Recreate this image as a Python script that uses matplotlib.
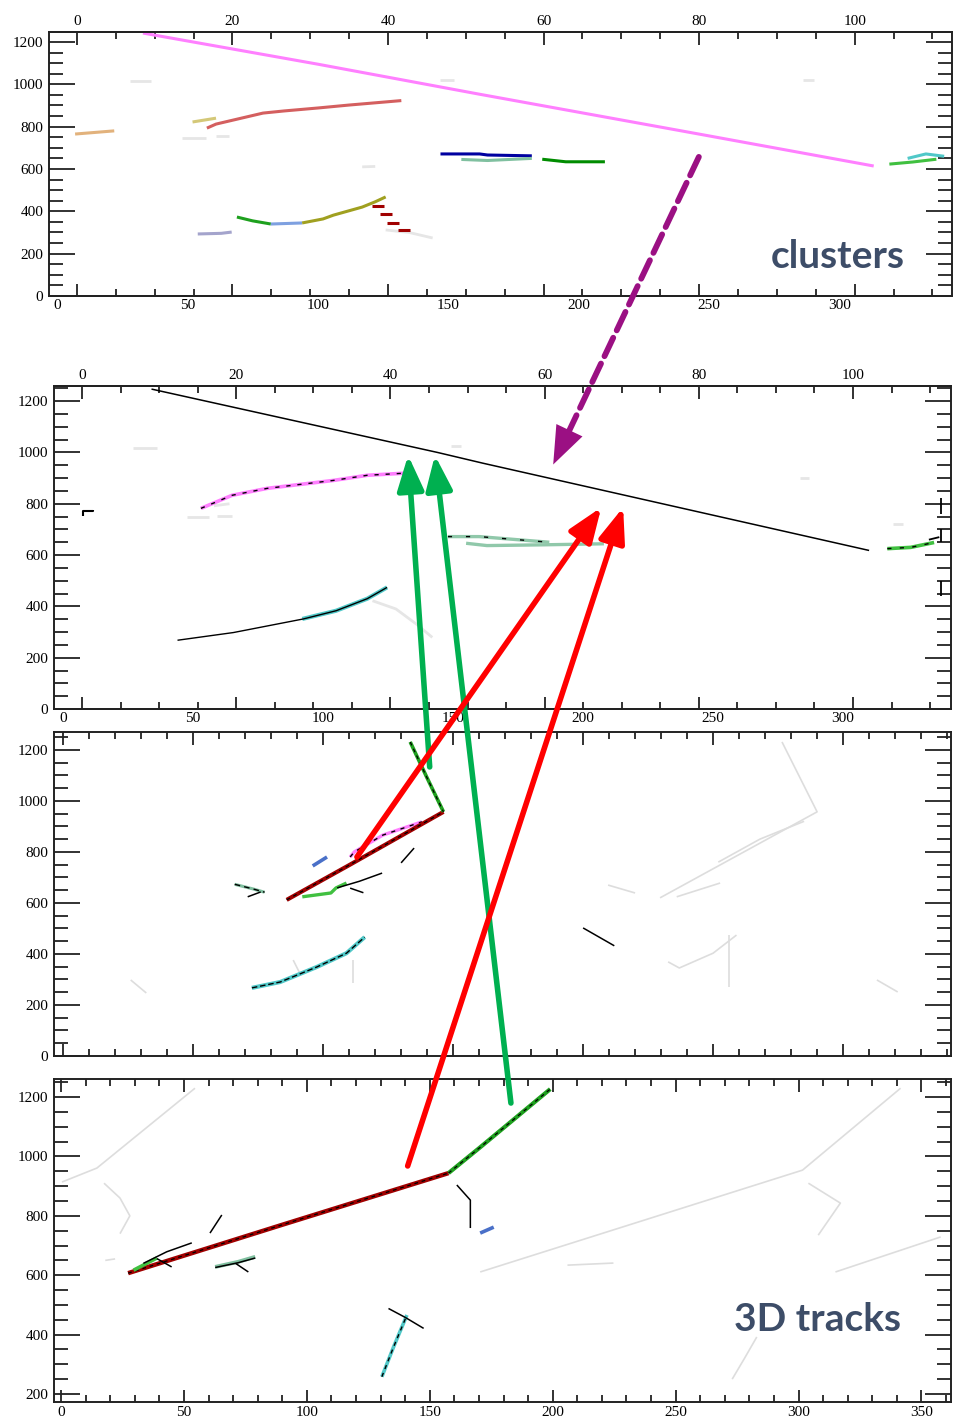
import matplotlib.pyplot as plt
from matplotlib.patches import ConnectionPatch, ArrowStyle
from matplotlib.ticker import MultipleLocator

plt.rcParams['font.family'] = ['Liberation Serif', 'DejaVu Serif']

# ---- top view: 2D clusters (wire number vs drift time) ----
cl_pink = [(33, 1242), (100, 1095), (162, 953), (246, 765), (313, 614)]
cl_peach = [(7, 765), (14, 772), (22, 780)]
cl_khaki = [(52, 822), (61, 840)]
cl_red = [(57.5, 793), (61, 812), (79, 864), (87, 874), (100, 888), (112, 902), (132, 923)]
cl_lavender = [(54, 293), (63, 296), (67, 302)]
cl_green = [(69, 373), (75, 355), (82, 340)]
cl_ltblue = [(82, 340), (94, 345)]
cl_olive = [(94, 345), (102, 364), (106, 382), (117, 420), (122, 445), (126, 468)]
cl_darkred = [(123, 426), (126, 386), (129, 346), (133, 312)]
cl_navy = [(147, 671), (162, 671), (165, 666), (182, 662)]
cl_sea = [(155, 645), (165, 640), (182, 650)]
cl_green2 = [(186, 646), (195, 634), (210, 634)]
cl_lime = [(319, 623), (328, 633), (337, 646)]
cl_cyan = [(326, 650), (333, 671), (340, 660)]
cl_faint = [
    [(28, 1016), (36, 1016)], [(48, 746), (57, 746)], [(61, 755), (66, 755)],
    [(147, 1020), (152, 1020)], [(126, 312), (135, 300), (144, 274)],
    [(117, 610), (122, 612)], [(286, 1020), (290, 1020)],
]

# ---- second view: matched clusters ----
v2_black = [(34, 1247), (144, 1000), (161.5, 958), (310, 618)]
v2_step = [(7.7, 754), (7.7, 770), (11.5, 770), (11.5, 776)]
v2_pink = [(53, 782), (65, 833), (78.5, 860), (104, 891), (117, 911), (131, 919)]
v2_cyan = [(92, 351), (105, 383), (117, 430), (124.6, 474)]
v2_track = [(44, 268), (65.5, 298), (92.4, 351), (105, 383), (117, 430), (124.6, 474)]
v2_sea_a = [(148, 672), (160, 672), (187, 650)]
v2_sea_b = [(155, 646), (163, 637), (185, 640), (208, 644)]
v2_lime = [(317, 625), (326, 630), (335, 649)]
v2_marks = [[(337.5, 821), (337.5, 760)], [(337.5, 649), (337.5, 700)],
            [(337.5, 442), (337.5, 500)], [(333, 660), (337, 670)]]
v2_faint = [
    [(27, 1018), (36, 1018)], [(47.6, 748), (56, 748)], [(59, 754), (65, 754)],
    [(119, 422), (128, 390), (136, 330), (142, 279)], [(149, 1024), (153, 1024)],
    [(319, 723), (323, 723)], [(283.5, 899), (287, 899)], [(58, 792), (64, 800)],
]

# ---- third view: 3D tracks projected (wire vs time) ----
p3_green = [(133.5, 1231), (140, 1090), (146.3, 957)]
p3_darkred = [(86, 612), (110, 748), (146.3, 957)]
p3_pink = [(110.4, 780), (112, 800), (123, 866), (138, 918)]
p3_blue = [(96, 745), (101.5, 780)]
p3_lime = [(92, 624), (103, 639), (105, 659), (109, 678)]
p3_black = [
    [(105.4, 659), (114, 685), (122.7, 717)], [(110.4, 658), (115.5, 640)],
    [(130, 757), (135, 815)], [(71, 624), (76, 643)], [(200, 502), (212, 432)],
]
p3_sea = [(66, 673), (73, 655), (77.5, 642)]
p3_cyan = [(72.6, 267), (83.5, 290), (97.6, 349), (109, 403), (116, 466)]
p3_faint = [
    [(276.5, 1231), (290, 957), (229.6, 620)], [(236, 624), (252.7, 678)],
    [(252, 760), (268, 850), (285, 920)], [(232.7, 369), (237, 345), (250, 403), (259, 474)],
    [(256, 474), (256, 270)], [(88.5, 376), (91, 325)], [(26, 298), (32, 247)],
    [(111.5, 376), (111.5, 286)], [(313, 298), (321, 251)], [(209.6, 670), (220, 639)],
]

# ---- bottom view: 3D tracks projected (other plane) ----
p4_darkred = [(27.3, 607), (90, 770), (157.6, 944)]
p4_green = [(157.6, 944), (170.5, 1031), (199, 1227)]
p4_lime = [(29.5, 617), (39, 658)]
p4_sea = [(62.7, 628), (72, 645), (79, 662)]
p4_cyan = [(130.5, 258), (135.3, 359), (140.7, 466)]
p4_blue = [(170.5, 742), (176, 762)]
p4_black = [
    [(33.5, 640), (43, 679), (53.2, 709)], [(39, 656), (45, 628)],
    [(60.6, 742), (65.4, 803)], [(62.7, 626), (72, 642), (79, 658)],
    [(71, 640), (76.2, 611)], [(161, 904), (166.5, 853), (166.5, 759)],
    [(133.2, 488), (140, 458), (147.5, 421)],
]
p4_faint = [
    [(0.4, 914), (14.6, 961), (54.5, 1230)], [(170.5, 611), (301.6, 954), (341.5, 1230)],
    [(315, 611), (357.8, 729)], [(17.5, 910), (24, 860), (28, 800), (24, 740)],
    [(304, 910), (317, 843), (308, 735)], [(283, 392), (278, 320), (273, 250)],
    [(206, 634), (224.7, 641)], [(18, 650), (22, 655)],
]

fig = plt.figure(figsize=(9.61, 14.18), dpi=100)
W, H = 961, 1418


def box(l, t, r, b):
    return [l / W, 1 - b / H, (r - l) / W, (b - t) / H]


ax1 = fig.add_axes(box(49, 32, 952, 296))
ax2 = fig.add_axes(box(54, 386, 951, 709))
ax3 = fig.add_axes(box(54, 732, 951, 1056))
ax4 = fig.add_axes(box(54, 1079, 951, 1402))

ax1.set_xlim(-3, 343); ax1.set_ylim(0, 1247)
ax2.set_xlim(-3.5, 341.5); ax2.set_ylim(0, 1259)
ax3.set_xlim(-3.5, 341.5); ax3.set_ylim(0, 1270)
ax4.set_xlim(-2.85, 362); ax4.set_ylim(173, 1261)

edge = '#222222'


def frame(ax):
    for s in ax.spines.values():
        s.set_linewidth(1.4)
        s.set_color(edge)
    ax.yaxis.set_major_locator(MultipleLocator(200))
    ax.yaxis.set_minor_locator(MultipleLocator(50))
    ax.tick_params(axis='y', which='both', direction='in', left=True, right=True,
                   width=1.3, color=edge, labelsize=11, pad=4)
    ax.tick_params(axis='y', which='major', length=19)
    ax.tick_params(axis='y', which='minor', length=10)


def plain_x(ax, labels):
    ax.xaxis.set_major_locator(MultipleLocator(50))
    ax.xaxis.set_minor_locator(MultipleLocator(10))
    ax.tick_params(axis='x', which='both', direction='in', top=True, bottom=True,
                   width=1.3, color=edge, labelsize=11, pad=3, labelbottom=labels)
    ax.tick_params(axis='x', which='major', length=9)
    ax.tick_params(axis='x', which='minor', length=5)


def wire_x(ax, off, k):
    # bottom labels in the plane's own units, ticks follow the wire scale
    ax.set_xticks(range(0, 301, 50))
    ax.tick_params(axis='x', length=0, labelsize=11, pad=2)
    for loc in ('top', 'bottom'):
        sec = ax.secondary_xaxis(loc, functions=(lambda x: (x - off) / k,
                                                 lambda t: t * k + off))
        sec.set_xticks(range(0, 101, 20))
        sec.xaxis.set_minor_locator(MultipleLocator(5))
        sec.tick_params(which='both', direction='in', width=1.3, color=edge,
                        labelsize=11, pad=3)
        sec.tick_params(which='major', length=9)
        sec.tick_params(which='minor', length=5)
        sec.spines[loc].set_linewidth(1.4)
        sec.spines[loc].set_color(edge)
        if loc == 'bottom':
            sec.tick_params(labelbottom=False)


def trace(ax, pts, color, lw=2.2, **kw):
    xs, ys = zip(*pts)
    ax.plot(xs, ys, color=color, lw=lw, solid_capstyle='butt', **kw)


for ax in (ax1, ax2, ax3, ax4):
    frame(ax)
wire_x(ax1, 7.7, 2.98)
wire_x(ax2, 7.3, 2.965)
plain_x(ax3, False)
plain_x(ax4, True)

# top view
for seg in cl_faint:
    trace(ax1, seg, '#e6e6e6', lw=2)
for pts, c in [(cl_pink, '#ff80ff'), (cl_peach, '#e2b27c'), (cl_khaki, '#d4c878'),
               (cl_red, '#d45f5f'), (cl_lavender, '#a4a4cc'), (cl_green, '#1ea01e'),
               (cl_ltblue, '#7ea0e0'), (cl_olive, '#a0a020'), (cl_navy, '#0000a0'),
               (cl_sea, '#80c0a0'), (cl_green2, '#008c00'), (cl_lime, '#40c040'),
               (cl_cyan, '#50c8c8')]:
    trace(ax1, pts, c)
xs, ys = zip(*cl_darkred)
ax1.plot(xs, ys, ls='none', marker='_', ms=9, mew=2.2, color='#a00000')
ax1.text(0.874, 0.148, 'clusters', transform=ax1.transAxes, ha='center', va='center',
         fontsize=28, fontweight='bold', family=['Lato', 'DejaVu Sans'], color='#3d4d68')

# second view
for seg in v2_faint:
    trace(ax2, seg, '#e6e6e6', lw=2)
trace(ax2, v2_pink, '#ff80ff', lw=2.6)
trace(ax2, v2_pink, 'black', lw=1.0, ls=(0, (3, 5)))
trace(ax2, v2_cyan, '#50c8c8', lw=3)
trace(ax2, v2_track, 'black', lw=1.0)
trace(ax2, v2_sea_a, '#90c8aa', lw=2.4)
trace(ax2, v2_sea_b, '#90c8aa', lw=2.4)
trace(ax2, v2_sea_a, 'black', lw=1.0, ls=(0, (3, 10)))
trace(ax2, v2_lime, '#40c040', lw=2.6)
trace(ax2, v2_lime, 'black', lw=1.0, ls=(0, (3, 6)))
trace(ax2, v2_black, 'black', lw=1.1)
trace(ax2, v2_step, 'black', lw=1.5)
for seg in v2_marks:
    trace(ax2, seg, 'black', lw=1.3)

# third view
for seg in p3_faint:
    trace(ax3, seg, '#dddddd', lw=1.2)
trace(ax3, p3_pink, '#ff80ff', lw=2.4)
trace(ax3, p3_pink, 'black', lw=1.0, ls=(0, (3, 4)))
trace(ax3, p3_darkred, '#a00000', lw=3)
trace(ax3, p3_darkred, 'black', lw=0.9, ls=(0, (3, 3)))
trace(ax3, p3_green, '#1ea01e', lw=2.6)
trace(ax3, p3_green, 'black', lw=0.9, ls=(0, (3, 3)))
trace(ax3, p3_blue, '#4a70c8', lw=2.6)
trace(ax3, p3_lime, '#40c040', lw=2.4)
trace(ax3, p3_sea, '#80c0a0', lw=2.2)
trace(ax3, p3_cyan, '#50c8c8', lw=3)
for seg in p3_black:
    trace(ax3, seg, 'black', lw=1.1)
trace(ax3, p3_sea, 'black', lw=1.0, ls=(0, (4, 3)))
trace(ax3, p3_cyan, 'black', lw=1.0, ls=(0, (4, 2)))

# bottom view
for seg in p4_faint:
    trace(ax4, seg, '#dddddd', lw=1.2)
trace(ax4, p4_darkred, '#a00000', lw=3.2)
trace(ax4, p4_darkred, 'black', lw=0.9, ls=(0, (3, 3)))
trace(ax4, p4_green, '#1ea01e', lw=3)
trace(ax4, p4_green, 'black', lw=0.9, ls=(0, (3, 3)))
trace(ax4, p4_lime, '#40c040', lw=2.6)
trace(ax4, p4_sea, '#80c0a0', lw=2.8)
trace(ax4, p4_cyan, '#50c8c8', lw=2.6)
trace(ax4, p4_cyan, 'black', lw=1.0, ls=(0, (3, 3)))
trace(ax4, p4_blue, '#4a70c8', lw=2.6)
for seg in p4_black:
    trace(ax4, seg, 'black', lw=1.1)
ax4.text(0.851, 0.254, '3D tracks', transform=ax4.transAxes, ha='center', va='center',
         fontsize=28, fontweight='bold', family=['Lato', 'DejaVu Sans'], color='#3d4d68')

# arrows linking the views: (tail axes, tail point, head axes, head point, colour, dashed)
links = [
    (ax1, (246, 657), ax2, (188.5, 953), '#9b1083', True),
    (ax3, (141, 1133), ax2, (132.7, 989), '#00b050', False),
    (ax4, (183, 1180), ax2, (143, 989), '#00b050', False),
    (ax3, (113, 780), ax2, (207, 786), '#ff0000', False),
    (ax4, (141, 968), ax2, (215.4, 786), '#ff0000', False),
]
head = ArrowStyle('-|>', head_length=1.05, head_width=0.4)
for a_ax, a_xy, b_ax, b_xy, col, dashed in links:
    if dashed:
        # dashed shaft stops at the head, then a solid head on its own
        shaft = ConnectionPatch(xyA=a_xy, coordsA=a_ax.transData, xyB=b_xy,
                                coordsB=b_ax.transData, arrowstyle='-', lw=4.2,
                                color=col, shrinkA=0, shrinkB=24,
                                linestyle=(0, (3.5, 1.4)), zorder=10)
        fig.add_artist(shaft)
        tip = ConnectionPatch(xyA=a_xy, coordsA=a_ax.transData, xyB=b_xy,
                              coordsB=b_ax.transData, arrowstyle=head, mutation_scale=26,
                              lw=0, color=col, shrinkA=0, shrinkB=0, zorder=10)
        fig.add_artist(tip)
    else:
        con = ConnectionPatch(xyA=a_xy, coordsA=a_ax.transData, xyB=b_xy,
                              coordsB=b_ax.transData, arrowstyle=head, mutation_scale=20,
                              lw=4, color=col, shrinkA=0, shrinkB=0, zorder=10)
        fig.add_artist(con)

fig.savefig('out.png', dpi=100)
